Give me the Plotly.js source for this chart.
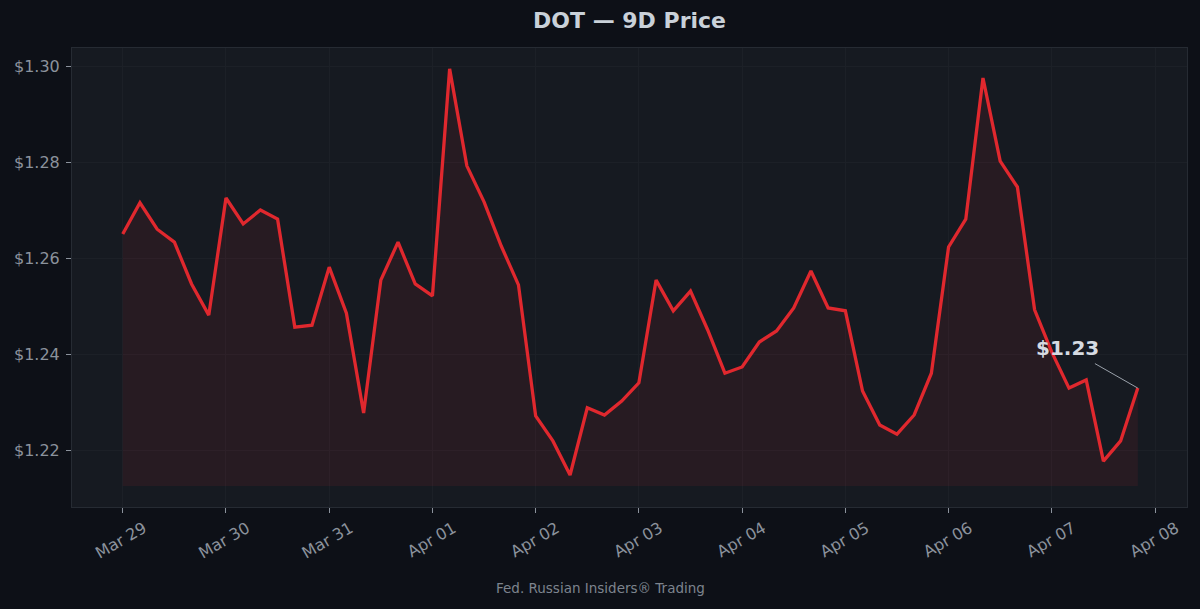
<!DOCTYPE html>
<html>
<head>
<meta charset="utf-8">
<script src="https://cdn.plot.ly/plotly-3.0.1.min.js"></script>
<style>
  html, body { margin: 0; padding: 0; background: #0d1017; }
  #chart { width: 1200px; height: 609px; }
</style>
</head>
<body>
<div id="chart"></div>
<script>
// ---- data ----
const startTime = '2025-03-29T00:00:00';
const stepHours = 4;
const prices = [
  1.2650, 1.2715, 1.2660, 1.2633, 1.2546, 1.2481, 1.2725, 1.2671, 1.2700, 1.2681,
  1.2456, 1.2460, 1.2581, 1.2485, 1.2277, 1.2554, 1.2633, 1.2546, 1.2521, 1.2994,
  1.2792, 1.2717, 1.2625, 1.2544, 1.2271, 1.2219, 1.2148, 1.2288, 1.2273, 1.2302,
  1.2340, 1.2554, 1.2490, 1.2531, 1.2450, 1.2360, 1.2373, 1.2425, 1.2448, 1.2496,
  1.2573, 1.2496, 1.2490, 1.2323, 1.2252, 1.2233, 1.2273, 1.2360, 1.2623, 1.2681,
  1.2975, 1.2802, 1.2748, 1.2492, 1.2404, 1.2329, 1.2346, 1.2177, 1.2219, 1.2329
];
const fillBase = 1.2125;
const lastLabel = '$1.23';
const titleText = 'DOT — 9D Price';
const footerText = 'Fed. Russian Insiders® Trading';
const watermarkText = 'Fed. Russian Insiders';
const yTickVals = [1.22, 1.24, 1.26, 1.28, 1.30];
const yTickText = ['$1.22', '$1.24', '$1.26', '$1.28', '$1.30'];

// ---- build ----
function fmt(d) {
  const p = n => String(n).padStart(2, '0');
  return d.getFullYear() + '-' + p(d.getMonth() + 1) + '-' + p(d.getDate()) + ' ' + p(d.getHours()) + ':' + p(d.getMinutes()) + ':00';
}
const t0 = new Date(startTime);
const times = prices.map((_, i) => fmt(new Date(t0.getTime() + i * stepHours * 3600000)));

const baseTrace = {
  x: times, y: prices.map(() => fillBase),
  type: 'scatter', mode: 'lines',
  line: { width: 0, color: 'rgba(0,0,0,0)' },
  hoverinfo: 'skip', showlegend: false
};
const priceTrace = {
  x: times, y: prices,
  type: 'scatter', mode: 'lines',
  fill: 'tonexty', fillcolor: 'rgba(200,35,45,0.10)',
  line: { color: '#e0282e', width: 3.3 },
  showlegend: false
};

const axisFont = { family: 'DejaVu Sans', size: 16, color: '#8b929c' };
const layout = {
  width: 1200, height: 609,
  paper_bgcolor: '#0d1017',
  plot_bgcolor: '#161a21',
  margin: { l: 72, r: 13, t: 48, b: 102 },
  font: { family: 'DejaVu Sans', color: '#8b929c' },
  title: {
    text: '<b>' + titleText + '</b>',
    font: { family: 'DejaVu Sans', size: 22, color: '#c9d1d9' },
    x: 0.5, xref: 'paper', xanchor: 'center',
    y: 1 - 20 / 609, yref: 'container', yanchor: 'middle'
  },
  xaxis: {
    type: 'date',
    range: ['2025-03-28 12:12:00', '2025-04-08 07:26:00'],
    tick0: '2025-03-29', dtick: 86400000,
    tickformat: '%b %d', tickangle: -30,
    ticklabelshift: 21,
    tickfont: axisFont,
    ticks: 'outside', ticklen: 5, tickcolor: '#8b929c', tickwidth: 1,
    showgrid: true, gridcolor: '#1c2027', gridwidth: 1,
    zeroline: false,
    showline: true, linecolor: '#262b33', linewidth: 1, mirror: true
  },
  yaxis: {
    range: [1.20813, 1.30375],
    tickvals: yTickVals, ticktext: yTickText,
    tickfont: axisFont,
    ticks: 'outside', ticklen: 5, tickcolor: '#8b929c', tickwidth: 1,
    ticklabelstandoff: 3,
    showgrid: true, gridcolor: '#1c2027', gridwidth: 1,
    zeroline: false,
    showline: true, linecolor: '#262b33', linewidth: 1, mirror: true
  },
  annotations: [
    {
      x: times[times.length - 1], y: prices[prices.length - 1],
      xref: 'x', yref: 'y',
      text: '<b>' + lastLabel + '</b>',
      showarrow: true, arrowhead: 0, arrowwidth: 1, arrowcolor: '#9aa1aa',
      ax: -70, ay: -40, standoff: 0, startstandoff: 4,
      font: { family: 'DejaVu Sans', size: 20, color: '#d6dbe2' }
    },
    {
      x: 0.5, y: 0.5, xref: 'paper', yref: 'paper',
      text: watermarkText, showarrow: false, textangle: -32,
      font: { family: 'DejaVu Sans', size: 44, color: 'rgba(255,255,255,0.025)' }
    },
    {
      x: (600 - 72) / 1115, y: -(588 - 507) / 459,
      xref: 'paper', yref: 'paper', xanchor: 'center', yanchor: 'middle',
      text: footerText, showarrow: false,
      font: { family: 'DejaVu Sans', size: 13.5, color: '#7d848e' }
    }
  ]
};

Plotly.newPlot('chart', [baseTrace, priceTrace], layout, { displayModeBar: false, staticPlot: true });
</script>
</body>
</html>
